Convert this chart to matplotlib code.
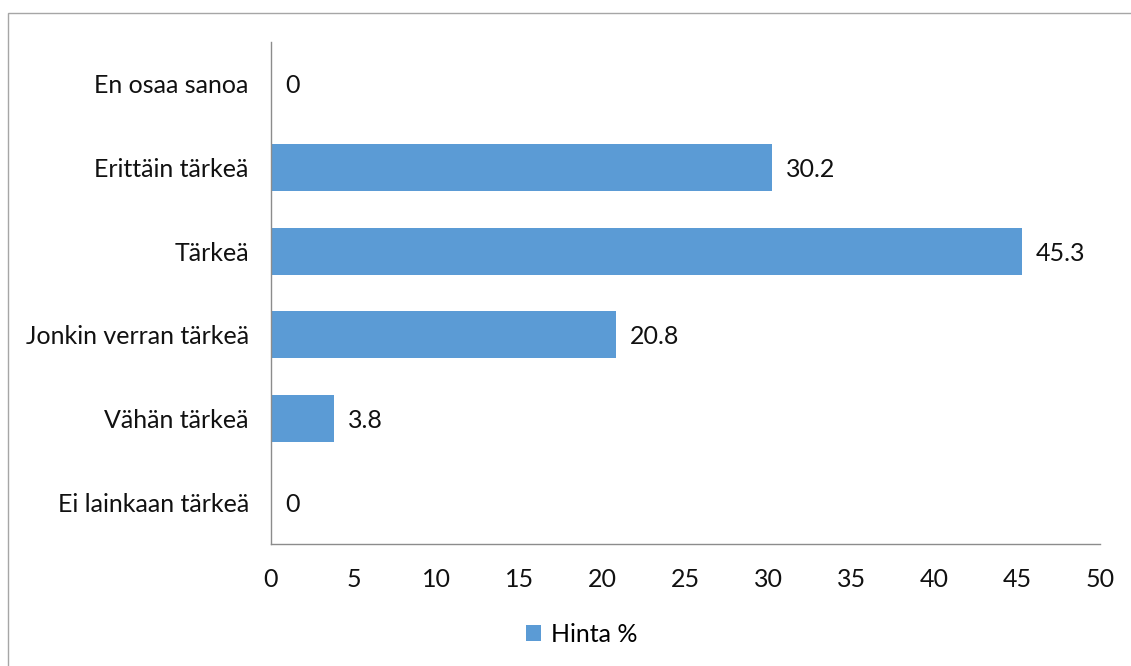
import matplotlib
matplotlib.use("Agg")
import matplotlib.pyplot as plt
from matplotlib.patches import Rectangle

# Vastausvaihtoehdot alhaalta ylos
kategoriat = ["Ei lainkaan tärkeä", "Vähän tärkeä", "Jonkin verran tärkeä",
              "Tärkeä", "Erittäin tärkeä", "En osaa sanoa"]
hinta = [0, 3.8, 20.8, 45.3, 30.2, 0]
xtiks = [0, 5, 10, 15, 20, 25, 30, 35, 40, 45, 50]

plt.rcParams['font.family'] = ['Lato', 'DejaVu Sans']
fkoko = 18
sininen = '#5B9BD5'
harmaa = '#8C8C8C'

fig = plt.figure(figsize=(11.31, 6.66), dpi=100)
ax = fig.add_axes([0.2396, 0.1832, 0.733, 0.7537])

y = range(len(kategoriat))
ax.barh(y, hinta, height=0.56, color=sininen, label='Hinta %')
for i, v in enumerate(hinta):
    ax.annotate('%g' % v, (v, i), xytext=(10, -1.5), textcoords='offset points',
                va='center', ha='left', fontsize=fkoko, color='#111111')

ax.set_xlim(0, 50)
ax.set_ylim(-0.5, len(kategoriat) - 0.5)
ax.set_xticks(xtiks)
ax.set_yticks(list(y))
ax.set_yticklabels(kategoriat)
ax.tick_params(axis='both', length=0, labelsize=fkoko, colors='#111111')
ax.tick_params(axis='y', pad=16)
ax.tick_params(axis='x', pad=17)
for s in ['top', 'right']:
    ax.spines[s].set_visible(False)
for s in ['left', 'bottom']:
    ax.spines[s].set_color(harmaa)
    ax.spines[s].set_linewidth(1.0)

fig.legend(loc='center', bbox_to_anchor=(0.514, 0.048), frameon=False,
           fontsize=fkoko, handlelength=0.6, handleheight=0.6, handletextpad=0.4)

# kaavion reunaviiva
fig.patches.append(Rectangle((8 / 1131, -0.1), 1.2, 1 - 13 / 666 + 0.1,
                             transform=fig.transFigure, fill=False,
                             edgecolor='#A6A6A6', linewidth=1.0))

plt.savefig("out.png", dpi=100)
